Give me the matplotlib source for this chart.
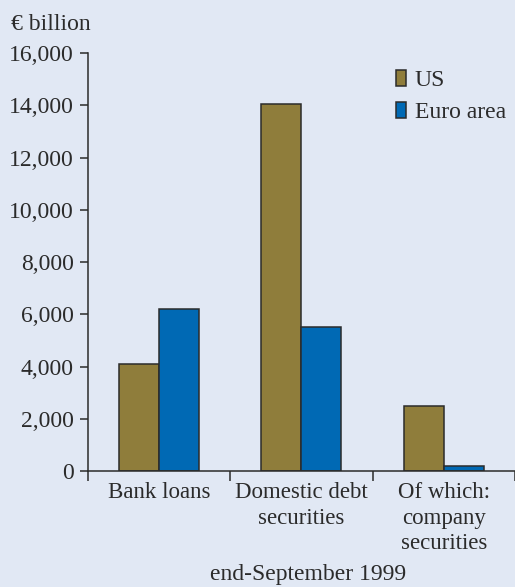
import numpy as np
import matplotlib
matplotlib.use("Agg")
import matplotlib.pyplot as plt

# stocks at end-September 1999, EUR billion
categories = ["Bank loans", "Domestic debt\nsecurities", "Of which:\ncompany\nsecurities"]
us_values = [4080, 14050, 2500]
euro_values = [6210, 5510, 180]

bg = "#e1e8f4"
ink = "#2b2b2b"
us_col = "#8f7d3b"
eu_col = "#0069b4"

plt.rcParams["font.family"] = ["Liberation Serif", "DejaVu Serif"]
plt.rcParams["font.size"] = 17

fig = plt.figure(figsize=(5.15, 5.87), dpi=100, facecolor=bg)
ax = fig.add_axes([0.170, 0.1976, 0.830, 0.7121], facecolor=bg)

x = np.arange(len(categories))
w = 0.28
ax.bar(x - w / 2, us_values, w, color=us_col, edgecolor=ink, linewidth=1.1, label="US")
ax.bar(x + w / 2, euro_values, w, color=eu_col, edgecolor=ink, linewidth=1.1, label="Euro area")

ax.set_ylim(0, 16000)
ax.set_xlim(-0.5, 2.465)
ax.set_yticks(range(0, 16001, 2000))
ax.set_yticklabels([f"{v:,}" for v in range(0, 16001, 2000)], color=ink)

# category labels sit between boundary ticks
ax.set_xticks([-0.5, 0.5, 1.5, 2.5])
ax.set_xticklabels([])
ax.set_xticks(x, minor=True)
ax.set_xticklabels(categories, minor=True, color=ink, linespacing=1.28, va="top", fontsize=16.5)
ax.tick_params(axis="x", which="minor", length=0, pad=8)
ax.tick_params(axis="x", which="major", length=7, width=1.1, color=ink, direction="out")
ax.tick_params(axis="y", length=6, width=1.1, color=ink, pad=4)

for s in ["top", "right"]:
    ax.spines[s].set_visible(False)
for s in ["left", "bottom"]:
    ax.spines[s].set_color(ink)
    ax.spines[s].set_linewidth(1.1)

leg = ax.legend(loc="upper left", bbox_to_anchor=(0.682, 1.0), frameon=False,
                handlelength=0.42, handleheight=0.68, handletextpad=0.4,
                labelspacing=0.45, borderaxespad=0.3)
for t in leg.get_texts():
    t.set_color(ink)

fig.text(0.022, 0.958, "€ billion", color=ink, fontsize=17, va="center")
fig.text(308 / 515, 0.004, "end-September 1999", color=ink, fontsize=17, ha="center", va="bottom")

fig.savefig("out.png", dpi=100, facecolor=bg)
